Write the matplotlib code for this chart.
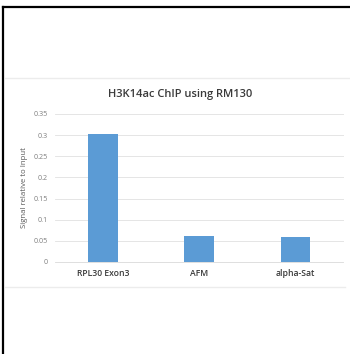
import matplotlib.pyplot as plt
from matplotlib.lines import Line2D

categories = ['RPL30 Exon3', 'AFM', 'alpha-Sat']
signal = [0.302, 0.0615, 0.060]
y_ticks = [0, 0.05, 0.1, 0.15, 0.2, 0.25, 0.3, 0.35]
y_tick_labels = ['0', '0.05', '0.1', '0.15', '0.2', '0.25', '0.3', '0.35']

plt.rcParams['font.family'] = ['Open Sans', 'DejaVu Sans']

W, H = 350, 354
fig = plt.figure(figsize=(3.5, 3.54), dpi=100)
fig.patch.set_facecolor('white')

# axes position in pixels: left 55, right 343.5, y0 at 262, top 0.35 at 114
ax = fig.add_axes([55 / W, 1 - 262 / H, (343.5 - 55) / W, (262 - 114) / H])
ax.bar(range(len(categories)), signal, width=0.31, color='#5B9BD5', zorder=3)
ax.set_xlim(-0.5, len(categories) - 0.5)
ax.set_ylim(0, 0.35)
ax.set_yticks(y_ticks)
ax.set_yticklabels(y_tick_labels, fontsize=5.2, color='#7f7f7f')
ax.set_xticks(range(len(categories)))
ax.set_xticklabels(categories, fontsize=6.2, color='#3a3a3a', fontweight='semibold')
ax.tick_params(axis='both', length=0)
ax.tick_params(axis='y', pad=5)
ax.tick_params(axis='x', pad=5)
ax.yaxis.grid(True, color='#e0e0e0', linewidth=0.6, zorder=0)
for s in ['top', 'right', 'left']:
    ax.spines[s].set_visible(False)
ax.spines['bottom'].set_color('#d9d9d9')
ax.spines['bottom'].set_linewidth(0.6)
ax.set_ylabel('Signal relative to Input', fontsize=5.6, color='#595959', labelpad=4)

fig.text(180 / W, 1 - 94 / H, 'H3K14ac ChIP using RM130', fontsize=8.0,
         color='#3a3a3a', ha='center', va='center', fontweight='semibold')

# black frame on top and left, light grey chart box lines
fig.add_artist(Line2D([3 / W, 1], [1 - 7 / H, 1 - 7 / H], color='black', linewidth=1.6))
fig.add_artist(Line2D([3 / W, 3 / W], [0, 1 - 7 / H], color='black', linewidth=1.6))
fig.add_artist(Line2D([5 / W, 1], [1 - 78 / H, 1 - 78 / H], color='#ececec', linewidth=1.0))
fig.add_artist(Line2D([5 / W, 345 / W], [1 - 287 / H, 1 - 287 / H], color='#ececec', linewidth=1.0))

fig.savefig('out.png', dpi=100)
